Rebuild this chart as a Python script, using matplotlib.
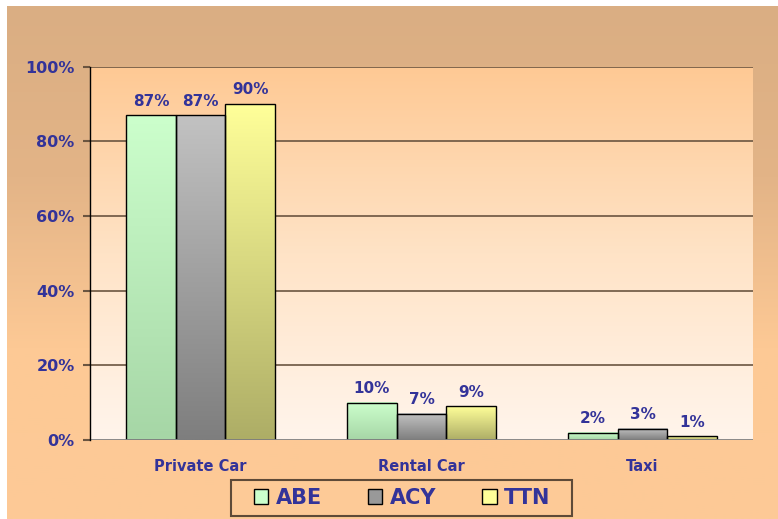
import numpy as np
import matplotlib
matplotlib.use("Agg")
import matplotlib.pyplot as plt
from matplotlib.colors import LinearSegmentedColormap
from matplotlib.patches import Patch, Rectangle

categories = ["Private Car", "Rental Car", "Taxi"]
series = ["ABE", "ACY", "TTN"]
abe = [87, 10, 2]
acy = [87, 7, 3]
ttn = [90, 9, 1]
yticks = [0, 20, 40, 60, 80, 100]

# top colour, bottom colour of each bar gradient
bar_grad = {
    "ABE": ("#CCFFCC", "#A6D6A6"),
    "ACY": ("#C2C2C2", "#7E7E7E"),
    "TTN": ("#FFFF99", "#ADAD66"),
}
legend_col = {"ABE": "#CCFFCC", "ACY": "#999999", "TTN": "#FFFF99"}
text_col = "#333399"

plt.rcParams['font.family'] = ['DejaVu Sans']
fig = plt.figure(figsize=(7.78, 5.19), dpi=100)
fig.patch.set_facecolor("white")

grad = np.linspace(0, 1, 256).reshape(-1, 1)

# outer chart background
bg = fig.add_axes([7/778, 0, 1 - 7/778, 1 - 6/519])
bg.set_zorder(-1)
bg.axis("off")
bg_cmap = LinearSegmentedColormap.from_list("bg", ["#DAAE83", "#E3B487", "#FDC995", "#FDCA97"])
bg.imshow(grad, cmap=bg_cmap, aspect="auto", extent=[0, 1, 0, 1], origin="upper")
bg.set_xlim(0, 1)
bg.set_ylim(0, 1)

ax = fig.add_axes([90/778, 1 - 440/519, (753 - 90)/778, (440 - 66.7)/519])
ax.patch.set_alpha(0)
plot_cmap = LinearSegmentedColormap.from_list("plot", ["#FEC994", "#FFE3C6", "#FFF5EC"])
ax.imshow(grad, cmap=plot_cmap, aspect="auto", extent=[0, 1, 0, 1],
          transform=ax.transAxes, origin="upper", zorder=0)

x = np.arange(len(categories))
w = 0.224
for i, (name, vals) in enumerate(zip(series, [abe, acy, ttn])):
    bars = ax.bar(x + (i - 1) * w, vals, w, facecolor="none", edgecolor="black",
                  linewidth=1, zorder=4)
    cmap = LinearSegmentedColormap.from_list(name, list(bar_grad[name]))
    for b, v in zip(bars, vals):
        bx, bw, bh = b.get_x(), b.get_width(), b.get_height()
        ax.imshow(grad, cmap=cmap, aspect="auto", extent=[bx, bx + bw, 0, bh],
                  origin="upper", zorder=3)
        ax.text(bx + bw / 2, bh + 1.8, f"{v}%", ha="center", va="bottom",
                fontsize=11, fontweight="bold", color=text_col, zorder=5)

ax.set_xlim(-0.5, 2.5)
ax.set_ylim(0, 100)
for t in yticks[1:]:
    ax.axhline(t, color="#6B5540", linewidth=1.2, zorder=1)
ax.axhline(0, color="#808080", linewidth=2, zorder=6)

ax.set_yticks(yticks)
ax.set_yticklabels([f"{t}%" for t in yticks])
ax.set_xticks(x)
ax.set_xticklabels(categories)
ax.tick_params(axis="y", length=5, width=1.5, color="#6B5540", pad=6,
               labelsize=11.5, labelcolor=text_col)
ax.tick_params(axis="x", length=0, pad=14, labelsize=10.5, labelcolor=text_col)
for lab in ax.get_xticklabels() + ax.get_yticklabels():
    lab.set_fontweight("bold")

for s in ["top", "right", "bottom"]:
    ax.spines[s].set_visible(False)
ax.spines["left"].set_color("black")
ax.spines["left"].set_linewidth(1)
ax.spines["left"].set_zorder(6)

# legend frame drawn separately so the inner padding matches
fig.patches.append(Rectangle((231/778, 1 - 516/519), 341/778, 36/519,
                             transform=fig.transFigure, facecolor="#FDCA97",
                             edgecolor="#5E4A38", linewidth=1.5, zorder=1))
handles = [Patch(facecolor=legend_col[n], edgecolor="black", linewidth=1) for n in series]
leg = fig.legend(handles, series, loc="center", bbox_to_anchor=(402/778, 1 - 498/519),
                 ncol=3, frameon=False, handlelength=0.7, handleheight=0.7,
                 columnspacing=2.2, handletextpad=0.35, borderpad=0.3,
                 prop={"size": 15, "weight": "bold"})
leg.set_zorder(2)
for t in leg.get_texts():
    t.set_color(text_col)

fig.savefig("out.png", dpi=100)
